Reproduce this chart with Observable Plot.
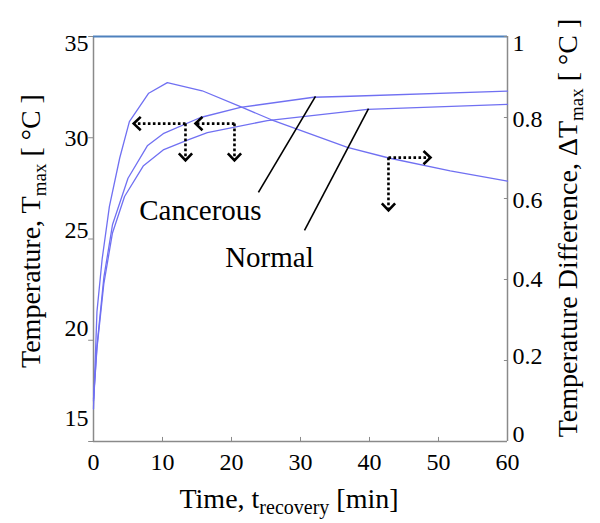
<!DOCTYPE html>
<html><head><meta charset="utf-8">
<script src="https://cdn.jsdelivr.net/npm/d3@7"></script>
<script src="https://cdn.jsdelivr.net/npm/@observablehq/plot@0.6"></script>
<style>
html,body{margin:0;padding:0;background:#fff;}
#chart{width:600px;height:523px;}
</style></head><body><div id="chart"></div>
<script>
// ---- data ----
const cancerT = [0, 0.5, 1.5, 2.75, 5, 7.8, 10.1, 15.5, 21.3, 31.9, 37.2, 60];
const cancerV = [17.1, 19.7, 23.1, 25.7, 28.0, 29.6, 30.2, 31.0, 31.5, 32.0, 32.05, 32.3];
const normalT = [0, 0.5, 1.5, 2.75, 4.5, 7.2, 10.1, 13.7, 16.5, 25.2, 39.7, 60];
const normalV = [17.0, 19.6, 22.8, 25.3, 27.1, 28.6, 29.4, 29.9, 30.25, 30.85, 31.4, 31.65];
const diffT = [0, 0.5, 1.25, 2.3, 3.8, 5.2, 8.0, 10.7, 15.75, 21.3, 25.7, 36.8, 42.8, 51.7, 60];
const diffV = [0.08, 0.32, 0.45, 0.58, 0.70, 0.79, 0.86, 0.886, 0.866, 0.827, 0.795, 0.726, 0.70, 0.668, 0.643];

const xTicks = [0, 10, 20, 30, 40, 50, 60];
const leftTicks = [15, 20, 25, 30, 35];
const rightTicks = [0, 0.2, 0.4, 0.6, 0.8, 1];

// annotation arrows (data units: t, left-axis T)
const arrowX1 = [13.33, 13.33, 20.43, 20.43, 42.75, 42.75];
const arrowY1 = [30.7, 30.7, 30.7, 30.7, 29.02, 29.02];
const arrowX2 = [5.83, 13.33, 14.78, 20.43, 48.84, 42.75];
const arrowY2 = [30.7, 28.88, 30.7, 28.88, 29.02, 26.41];

// leader lines and labels
const labelNames = ["Cancerous", "Normal"];
const labelX = [15.5, 25.5];
const labelY = [26.41, 24.09];
const leaderX1 = [32.17, 39.86], leaderY1 = [32.04, 31.44];
const leaderX2 = [23.9, 30.58], leaderY2 = [27.3, 25.42];

// ---- build tables ----
const cancer = cancerT.map((t, i) => ({t, v: cancerV[i]}));
const normal = normalT.map((t, i) => ({t, v: normalV[i]}));
const diff = diffT.map((t, i) => ({t, v: diffV[i]}));
const toLeft = v => 15 + 20 * v; // right axis [0,1] shares the frame with left [15,35]
const arrows = arrowX1.map((x1, i) => ({x1, y1: arrowY1[i], x2: arrowX2[i], y2: arrowY2[i]}));
const dirOf = a => a.x2 > a.x1 ? "right" : a.x2 < a.x1 ? "left" : a.y2 < a.y1 ? "down" : "up";
const labels = labelNames.map((n, i) => ({n, x: labelX[i], y: labelY[i]}));
const leaders = leaderX1.map((x1, i) => ({x1, y1: leaderY1[i], x2: leaderX2[i], y2: leaderY2[i]}));

const leftDy = {35: 7, 30: 1, 25: -9, 20: -12, 15: -23};
const rightDy = {1: 7, 0.8: 2, 0.6: 2, 0.4: 0, 0.2: -4, 0: -7};

// chevron arrowheads with the tip at the anchor point
function chevron(dir) {
  return {
    draw(ctx, size) {
      const r = Math.sqrt(size / Math.PI);
      const h = r * 0.95;
      if (dir === "left") { ctx.moveTo(r, -h); ctx.lineTo(0, 0); ctx.lineTo(r, h); }
      if (dir === "right") { ctx.moveTo(-r, -h); ctx.lineTo(0, 0); ctx.lineTo(-r, h); }
      if (dir === "down") { ctx.moveTo(-h, -r); ctx.lineTo(0, 0); ctx.lineTo(h, -r); }
      if (dir === "up") { ctx.moveTo(-h, r); ctx.lineTo(0, 0); ctx.lineTo(h, r); }
    }
  };
}

const curveColor = "#7070f2";
const axisGray = "#8a8a8a";
const font = "'Liberation Serif', 'Times New Roman', serif";

const marks = [
  // frame
  Plot.ruleX([0, 60], {stroke: axisGray, strokeWidth: 1.5}),
  Plot.ruleY([15], {stroke: axisGray, strokeWidth: 1.5}),
  Plot.ruleY([35], {stroke: "#4f81bd", strokeWidth: 2}),
  // ticks
  Plot.ruleX(xTicks.slice(1, -1), {x: d => d, y1: 15, y2: 15.2, stroke: axisGray}),
  Plot.ruleY(leftTicks, {y: d => d, x1: -0.7, x2: 0, stroke: axisGray}),
  Plot.ruleY(rightTicks, {y: d => toLeft(d), x1: 59.55, x2: 60, stroke: axisGray}),
  // tick labels
  Plot.text(xTicks, {x: d => d, y: 15, text: d => String(d), dy: 21, fontSize: 24}),
  ...leftTicks.map(t => Plot.text([t], {x: 0, y: d => d, text: d => String(d), textAnchor: "end", dx: -5, dy: leftDy[t], fontSize: 24})),
  ...rightTicks.map(t => Plot.text([t], {x: 60, y: d => toLeft(d), text: d => String(d), textAnchor: "start", dx: 5, dy: rightDy[t], fontSize: 24})),
  // curves
  Plot.line(diff, {x: "t", y: d => toLeft(d.v), stroke: curveColor, strokeWidth: 1.3}),
  Plot.line(cancer, {x: "t", y: "v", stroke: curveColor, strokeWidth: 1.3}),
  Plot.line(normal, {x: "t", y: "v", stroke: curveColor, strokeWidth: 1.3}),
  // leader lines + labels
  Plot.link(leaders, {x1: "x1", y1: "y1", x2: "x2", y2: "y2", stroke: "black", strokeWidth: 1.6}),
  Plot.text(labels, {x: "x", y: "y", text: "n", fontSize: 29, fill: "black"}),
  // dotted arrows
  Plot.link(arrows, {x1: "x1", y1: "y1", x2: "x2", y2: "y2", stroke: "black", strokeWidth: 2.6, strokeDasharray: "2.6,2.4"}),
  ...["left", "right", "down", "up"].map(dir =>
    Plot.dot(arrows.filter(a => dirOf(a) === dir), {
      x: "x2", y: "y2", r: 7, symbol: chevron(dir), fill: "none",
      stroke: "black", strokeWidth: 2.6, strokeLinejoin: "miter", strokeLinecap: "butt"
    }))
];

const svgNode = Plot.plot({
  width: 600,
  height: 523,
  marginLeft: 93,
  marginRight: 93,
  marginTop: 36,
  marginBottom: 82,
  x: {domain: [0, 60], axis: null},
  y: {domain: [15, 35], axis: null},
  style: {fontFamily: font, fontSize: "24px", background: "white", color: "black", overflow: "visible"},
  marks
});
document.getElementById("chart").appendChild(svgNode);

// axis titles with subscripts
const svg = d3.select(svgNode);
function title(x, y, rot, main, sub, tail, subSize) {
  const t = svg.append("text")
    .attr("transform", `translate(${x},${y}) rotate(${rot})`)
    .attr("text-anchor", "middle")
    .attr("font-family", font)
    .attr("font-size", 28)
    .attr("fill", "black");
  t.append("tspan").text(main);
  t.append("tspan").attr("font-size", subSize).attr("dy", 6).text(sub);
  t.append("tspan").attr("dy", -6).text(tail);
}
title(40, 231, -90, "Temperature, T", "max", " [ °C ]", 19);
title(577, 228, -90, "Temperature Difference, ΔT", "max", " [ °C ]", 19);
title(289, 508, 0, "Time, t", "recovery", " [min]", 20);
</script></body></html>
